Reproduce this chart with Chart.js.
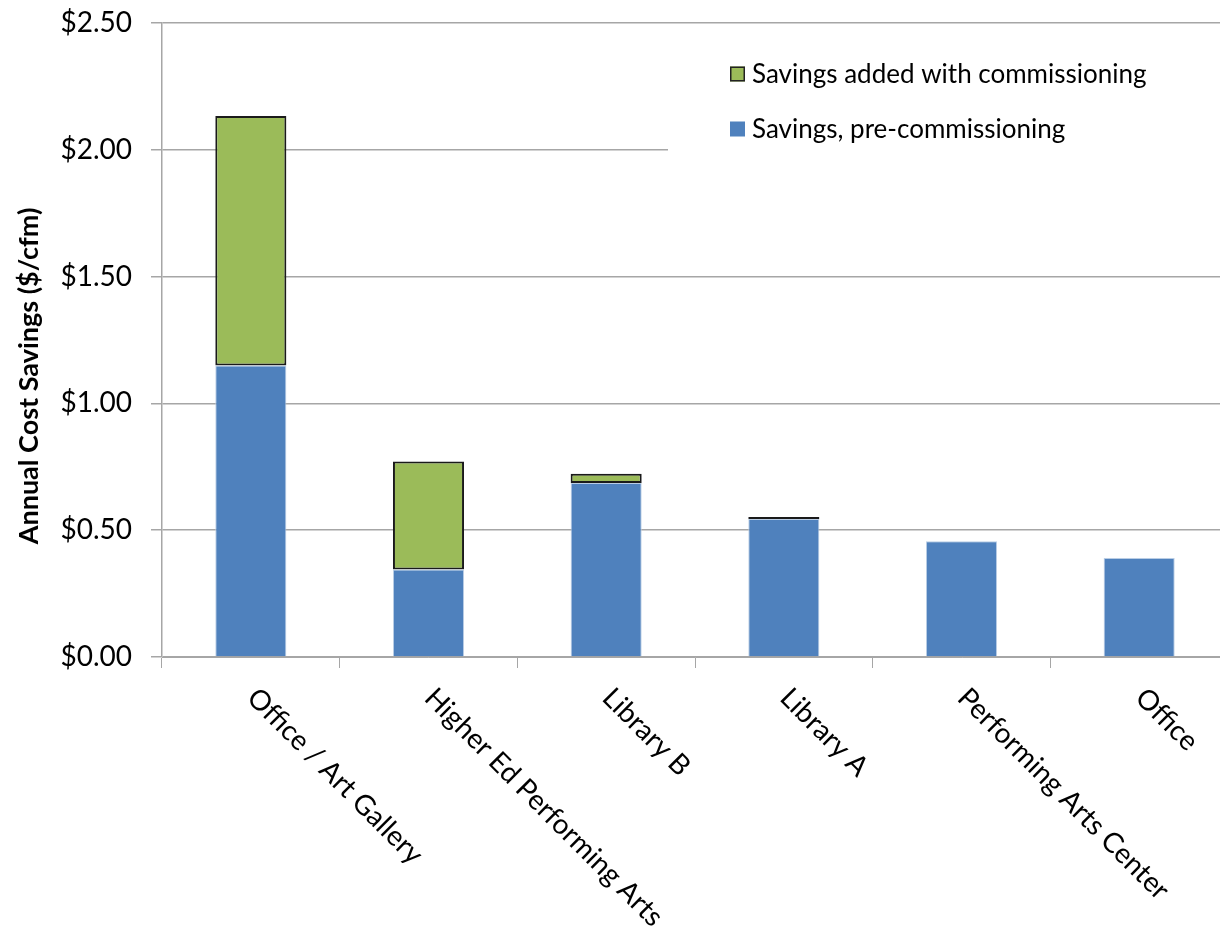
<!DOCTYPE html>
<html>
<head>
<meta charset="utf-8">
<script src="https://cdn.jsdelivr.net/npm/chart.js@4"></script>
<style>
  html, body { margin: 0; padding: 0; background: #fff; overflow: hidden; }
  #wrap { position: relative; width: 1230px; height: 936px; }
</style>
</head>
<body>
<div id="wrap"><canvas id="savingsChart"></canvas></div>
<script>
// Données du graphique
const buildings = ['Office / Art Gallery', 'Higher Ed Performing Arts', 'Library B', 'Library A', 'Performing Arts Center', 'Office'];
const preCommissioning = [1.149, 0.345, 0.686, 0.544, 0.456, 0.390];
const addedCommissioning = [0.984, 0.426, 0.037, 0.008, 0, 0];
const yTicks = [0, 0.5, 1.0, 1.5, 2.0, 2.5];
const seriesNames = ['Savings, pre-commissioning', 'Savings added with commissioning'];
const yTitle = 'Annual Cost Savings ($/cfm)';

const BLUE = '#4f81bd';
const GREEN = '#9bbb59';
const GRID = '#a6a6a6';
const FONT = 'Lato, "Open Sans", sans-serif';

// Légende, titre de l'axe Y et étiquettes inclinées
const overlayPlugin = {
    id: 'overlay',
    afterDraw(chart) {
        const ctx = chart.ctx;
        const area = chart.chartArea;
        const x = chart.scales.x;

        ctx.save();

        // fond blanc de la légende
        ctx.fillStyle = '#fff';
        ctx.fillRect(668, area.top + 12, area.right - 668, 128);

        const entries = [
            { text: seriesNames[1], fill: GREEN, stroke: '#222', y: 74 },
            { text: seriesNames[0], fill: BLUE, stroke: null, y: 129 }
        ];
        ctx.font = '26px ' + FONT;
        ctx.textAlign = 'left';
        ctx.textBaseline = 'middle';
        entries.forEach(e => {
            ctx.fillStyle = e.fill;
            ctx.fillRect(730, e.y - 7.5, 15, 15);
            if (e.stroke) {
                ctx.strokeStyle = e.stroke;
                ctx.lineWidth = 1.5;
                ctx.strokeRect(730.75, e.y - 6.75, 13.5, 13.5);
            }
            ctx.fillStyle = '#000';
            ctx.fillText(e.text, 752, e.y + 1);
        });

        // étiquettes des catégories
        ctx.font = '28px ' + FONT;
        buildings.forEach((label, i) => {
            const px = x.getPixelForTick(i);
            ctx.save();
            ctx.translate(px + 1, x.top + 36);
            ctx.rotate(Math.PI / 4);
            ctx.fillText(label, 0, 0);
            ctx.restore();
        });

        // titre de l'axe Y
        ctx.font = 'bold 27px ' + FONT;
        ctx.textAlign = 'center';
        ctx.translate(29, 376);
        ctx.rotate(-Math.PI / 2);
        ctx.fillText(yTitle, 0, 0);

        ctx.restore();
    }
};

function initSavingsChart() {
    const ctx = document.getElementById('savingsChart').getContext('2d');

    new Chart(ctx, {
        type: 'bar',
        data: {
            labels: buildings,
            datasets: [{
                label: seriesNames[0],
                data: preCommissioning,
                backgroundColor: BLUE,
                borderColor: '#b9cde5',
                borderWidth: 1,
                borderSkipped: 'bottom',
                barPercentage: 0.4,
                categoryPercentage: 1.0
            }, {
                label: seriesNames[1],
                data: addedCommissioning,
                backgroundColor: GREEN,
                borderColor: '#1a1a1a',
                borderWidth: 2,
                borderSkipped: false,
                barPercentage: 0.4,
                categoryPercentage: 1.0
            }]
        },
        options: {
            responsive: true,
            maintainAspectRatio: false,
            animation: false,
            layout: {
                padding: { top: 23, right: 2, left: 0, bottom: 0 }
            },
            plugins: {
                legend: { display: false },
                tooltip: { enabled: false }
            },
            scales: {
                x: {
                    stacked: true,
                    offset: true,
                    grid: {
                        display: true,
                        offset: true,
                        drawOnChartArea: false,
                        drawTicks: true,
                        tickLength: 11,
                        color: GRID
                    },
                    border: { color: GRID, width: 1 },
                    ticks: { display: false },
                    afterFit(scale) {
                        scale.height = 279;
                        scale.paddingLeft = 0;
                        scale.paddingRight = 0;
                    }
                },
                y: {
                    stacked: true,
                    min: yTicks[0],
                    max: yTicks[yTicks.length - 1],
                    afterBuildTicks(scale) {
                        scale.ticks = yTicks.map(v => ({ value: v }));
                    },
                    grid: {
                        color: GRID,
                        tickLength: 11,
                        lineWidth: 1.5
                    },
                    border: { color: GRID, width: 1.5 },
                    ticks: {
                        color: '#000',
                        padding: 19,
                        font: { family: FONT, size: 28 },
                        callback: value => '$' + value.toFixed(2)
                    },
                    afterFit(scale) {
                        scale.width = 162;
                        scale.paddingTop = 0;
                        scale.paddingBottom = 0;
                    }
                }
            }
        },
        plugins: [overlayPlugin]
    });
}

document.addEventListener('DOMContentLoaded', initSavingsChart);
</script>
</body>
</html>
